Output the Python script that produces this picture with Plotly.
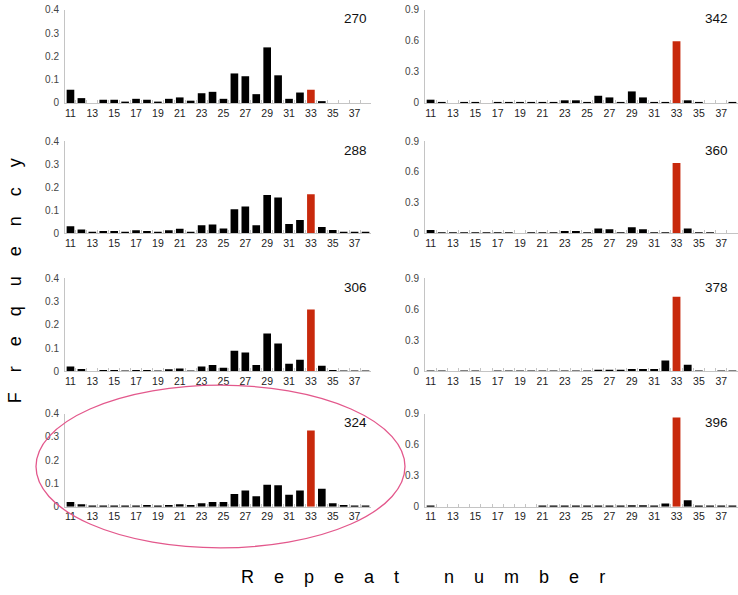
import plotly.graph_objects as go

W, H = 738, 595

repeats = list(range(11, 39))
tick_vals = list(range(11, 38, 2))
red_repeat = 33

panel_labels = ["270", "288", "306", "324", "342", "360", "378", "396"]

f270 = [0.057, 0.021, 0.0, 0.014, 0.014, 0.006, 0.018, 0.014, 0.006, 0.018, 0.024, 0.010, 0.042, 0.048,
        0.018, 0.127, 0.115, 0.038, 0.239, 0.119, 0.018, 0.045, 0.057, 0.008, 0.0, 0.0, 0.0, 0.0]
f288 = [0.031, 0.017, 0.007, 0.010, 0.010, 0.007, 0.013, 0.010, 0.007, 0.013, 0.020, 0.007, 0.035, 0.038,
        0.021, 0.105, 0.116, 0.035, 0.166, 0.156, 0.041, 0.058, 0.170, 0.028, 0.014, 0.007, 0.007, 0.007]
f306 = [0.021, 0.011, 0.0, 0.006, 0.006, 0.004, 0.006, 0.006, 0.004, 0.010, 0.013, 0.004, 0.021, 0.028,
        0.016, 0.089, 0.082, 0.028, 0.163, 0.120, 0.033, 0.050, 0.266, 0.025, 0.006, 0.004, 0.004, 0.004]
f324 = [0.020, 0.011, 0.005, 0.005, 0.005, 0.005, 0.005, 0.007, 0.005, 0.007, 0.010, 0.007, 0.015, 0.020,
        0.020, 0.055, 0.070, 0.045, 0.094, 0.092, 0.051, 0.070, 0.327, 0.077, 0.015, 0.007, 0.005, 0.005]
f342 = [0.032, 0.010, 0.0, 0.010, 0.010, 0.0, 0.010, 0.010, 0.010, 0.010, 0.010, 0.010, 0.026, 0.026,
        0.010, 0.070, 0.054, 0.010, 0.112, 0.054, 0.010, 0.010, 0.597, 0.026, 0.010, 0.0, 0.0, 0.010]
f360 = [0.032, 0.010, 0.010, 0.010, 0.010, 0.010, 0.010, 0.010, 0.0, 0.010, 0.010, 0.010, 0.022, 0.022,
        0.010, 0.047, 0.041, 0.010, 0.060, 0.041, 0.010, 0.010, 0.688, 0.047, 0.010, 0.010, 0.0, 0.0]
f378 = [0.008, 0.008, 0.0, 0.008, 0.008, 0.0, 0.008, 0.008, 0.008, 0.008, 0.008, 0.008, 0.008, 0.008,
        0.008, 0.016, 0.016, 0.016, 0.025, 0.025, 0.025, 0.105, 0.722, 0.064, 0.008, 0.0, 0.008, 0.008]
f396 = [0.008, 0.0, 0.0, 0.0, 0.0, 0.0, 0.0, 0.0, 0.0, 0.0, 0.008, 0.008, 0.008, 0.008,
        0.008, 0.008, 0.008, 0.008, 0.013, 0.013, 0.008, 0.031, 0.862, 0.063, 0.008, 0.008, 0.008, 0.008]

series = [f270, f288, f306, f324, f342, f360, f378, f396]

left_ticks = [0, 0.1, 0.2, 0.3, 0.4]
right_ticks = [0, 0.3, 0.6, 0.9]

# layout geometry (pixels)
row_px = [(4, 99), (138, 232), (278, 373), (416, 511)]
col_px = [(65, 371), (425, 738)]


def px_x(p):
    return p / W


def px_y(p):
    return 1 - p / H


BLACK = "#000000"
RED = "#c8290c"
AX = "#c4c4c4"
FONT = "Liberation Sans, Arial, Helvetica, sans-serif"

fig = go.Figure()
layout = {}
annotations = []

for i, (lab, vals) in enumerate(zip(panel_labels, series)):
    col = i // 4
    row = i % 4
    n = i + 1
    xa = "x" if n == 1 else f"x{n}"
    ya = "y" if n == 1 else f"y{n}"
    colors = [RED if r == red_repeat else BLACK for r in repeats]
    fig.add_trace(go.Bar(
        x=repeats, y=vals, marker=dict(color=colors, line=dict(width=0)),
        xaxis=xa, yaxis=ya, showlegend=False, width=0.7,
    ))
    top, bot = row_px[row]
    left, right = col_px[col]
    ticks = left_ticks if col == 0 else right_ticks
    layout[f"xaxis{'' if n == 1 else n}"] = dict(
        domain=[px_x(left), px_x(right)], anchor=ya, range=[10.5, 38.5],
        tickmode="array", tickvals=tick_vals, ticks="", showgrid=False,
        showline=True, linecolor=AX, linewidth=1, zeroline=False,
        tickfont=dict(family=FONT, size=10.5, color="#222"),
        minor=dict(tickmode="array", tickvals=[r + 0.5 for r in repeats[:-1]],
                   ticks="inside", ticklen=3, tickcolor=AX, showgrid=False),
        fixedrange=True,
    )
    layout[f"yaxis{'' if n == 1 else n}"] = dict(
        domain=[px_y(bot), px_y(top)], anchor=xa, range=[0, ticks[-1]],
        tickmode="array", tickvals=ticks, ticks="outside", ticklen=3,
        tickcolor="white", showgrid=False, showline=True, linecolor=AX,
        linewidth=1, zeroline=False, ticklabeloverflow="allow",
        tickfont=dict(family=FONT, size=10, color="#444"),
        fixedrange=True,
    )
    lx = 355 if col == 0 else 716
    ly = top + 9
    annotations.append(dict(
        text=lab, x=px_x(lx), y=px_y(ly), xref="paper", yref="paper",
        xanchor="center", yanchor="middle", showarrow=False,
        font=dict(family=FONT, size=13.5, color="#111"),
    ))

nb = "\u00a0"
freq_text = (nb * 4).join(list("Frequency"))
rep_text = (nb * 4).join(list("Repeat")) + nb * 9 + (nb * 4).join(list("number"))

annotations.append(dict(
    text=freq_text, x=px_x(15), y=px_y(281), xref="paper", yref="paper",
    xanchor="center", yanchor="middle", textangle=-90, showarrow=False,
    font=dict(family=FONT, size=18, color="#000"),
))
annotations.append(dict(
    text=rep_text, x=px_x(423), y=px_y(583), xref="paper", yref="paper",
    xanchor="center", yanchor="middle", showarrow=False,
    font=dict(family=FONT, size=18, color="#000"),
))

shapes = [dict(
    type="circle", xref="paper", yref="paper",
    x0=px_x(36), x1=px_x(405), y0=px_y(553), y1=px_y(387),
    line=dict(color="#e3588c", width=1.3), fillcolor="rgba(0,0,0,0)",
)]

fig.update_layout(
    width=W, height=H, margin=dict(l=0, r=0, t=0, b=0),
    paper_bgcolor="white", plot_bgcolor="white", bargap=0.3,
    annotations=annotations, shapes=shapes, **layout,
)

fig.write_html(
    "out.html",
    config={"displayModeBar": False},
    post_script="document.body.style.margin='0';document.body.style.overflow='hidden';",
)
